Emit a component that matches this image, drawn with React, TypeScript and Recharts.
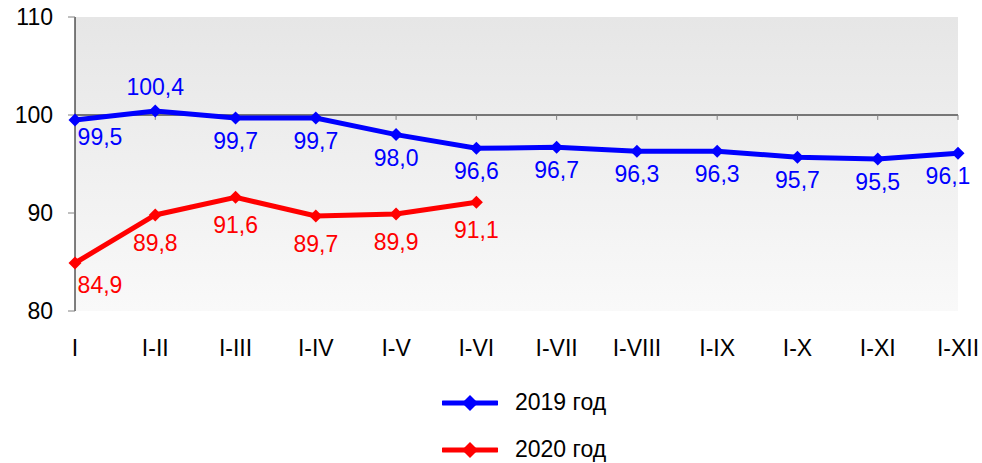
import React from 'react';
import {
  LineChart,
  Line,
  XAxis,
  YAxis,
  CartesianGrid,
  ReferenceLine,
  LabelList,
  Legend,
} from 'recharts';

const categories = ['I', 'I-II', 'I-III', 'I-IV', 'I-V', 'I-VI', 'I-VII', 'I-VIII', 'I-IX', 'I-X', 'I-XI', 'I-XII'];
const values2019 = [99.5, 100.4, 99.7, 99.7, 98.0, 96.6, 96.7, 96.3, 96.3, 95.7, 95.5, 96.1];
const values2020 = [84.9, 89.8, 91.6, 89.7, 89.9, 91.1];
const yTicks = [80, 90, 100, 110];
const seriesNames = ['2019 год', '2020 год'];
const seriesColors = ['#0000ff', '#ff0000'];

const data = categories.map((c, i) => ({
  cat: c,
  y2019: values2019[i],
  y2020: i < values2020.length ? values2020[i] : null,
}));

const FONT = '"Liberation Sans", Arial, sans-serif';
const FS = 23;

const fmt = (v: number) => v.toFixed(1).replace('.', ',');

const makeDot = (color: string, r: number) => (p: any) => {
  const { cx, cy, index } = p;
  if (cx == null || cy == null || p.value == null) return <g key={`d${index}`} />;
  return (
    <path
      key={`d${index}`}
      d={`M${cx},${cy - r} L${cx + r},${cy} L${cx},${cy + r} L${cx - r},${cy} Z`}
      fill={color}
    />
  );
};

const makeLabel = (color: string, series: number) => (p: any) => {
  const { x, y, value, index } = p;
  if (value == null || x == null || y == null) return null;
  let dx = 0;
  let dy = series === 0 ? 23 : 28;
  if (index === 0) {
    dx = 25;
    dy = series === 0 ? 17 : 22;
  }
  if (series === 0 && index === 1) dy = -24;
  if (series === 0 && index === categories.length - 1) dx = -10;
  return (
    <text
      x={x + dx}
      y={y + dy}
      fill={color}
      fontSize={FS}
      fontFamily={FONT}
      textAnchor="middle"
      dominantBaseline="central"
    >
      {fmt(Number(value))}
    </text>
  );
};

const LegendContent = () => (
  <div style={{ fontFamily: FONT, fontSize: FS, color: '#000' }}>
    {seriesNames.map((name, i) => (
      <div key={name} style={{ display: 'flex', alignItems: 'center', height: 47 }}>
        <svg width={56} height={22} style={{ display: 'block' }}>
          <line x1={1} y1={11} x2={55} y2={11} stroke={seriesColors[i]} strokeWidth={5} strokeLinecap="round" />
          <path d="M28,3 L36,11 L28,19 L20,11 Z" fill={seriesColors[i]} />
        </svg>
        <span style={{ marginLeft: 17, whiteSpace: 'nowrap' }}>{name}</span>
      </div>
    ))}
  </div>
);

export default function App() {
  return (
    <div style={{ position: 'absolute', left: 0, top: 0, width: 982, height: 463, background: '#fff' }}>
      <LineChart
        width={982}
        height={463}
        data={data}
        margin={{ top: 17, right: 24, left: 0, bottom: 0 }}
      >
        <defs>
          <linearGradient id="bgGrad" x1="0" y1="0" x2="0" y2="1">
            <stop offset="0%" stopColor="#e6e6e6" />
            <stop offset="100%" stopColor="#f9f9f9" />
          </linearGradient>
        </defs>
        <CartesianGrid horizontal={false} vertical={false} fill="url(#bgGrad)" stroke="none" />
        <XAxis
          dataKey="cat"
          height={152}
          axisLine={false}
          tickLine={false}
          tickSize={0}
          tickMargin={29}
          interval={0}
          tick={{ fill: '#000', fontSize: FS, fontFamily: FONT }}
        />
        <YAxis
          width={75}
          domain={[80, 110]}
          ticks={yTicks}
          interval={0}
          axisLine={{ stroke: '#000', strokeWidth: 1 }}
          tickLine={{ stroke: '#808080' }}
          tickSize={7}
          tickMargin={15}
          tick={{ fill: '#000', fontSize: FS, fontFamily: FONT }}
        />
        <ReferenceLine y={100} stroke="#000" strokeWidth={1} ifOverflow="visible" />
        {categories.slice(1).map((c) => (
          <ReferenceLine
            key={`t${c}`}
            segment={[
              { x: c, y: 100 },
              { x: c, y: 99.5 },
            ]}
            stroke="#808080"
            strokeWidth={1}
          />
        ))}
        <Line
          type="linear"
          dataKey="y2019"
          name={seriesNames[0]}
          stroke={seriesColors[0]}
          strokeWidth={5}
          dot={makeDot(seriesColors[0], 6.5)}
          activeDot={false}
          isAnimationActive={false}
        >
          <LabelList dataKey="y2019" content={makeLabel(seriesColors[0], 0)} />
        </Line>
        <Line
          type="linear"
          dataKey="y2020"
          name={seriesNames[1]}
          stroke={seriesColors[1]}
          strokeWidth={5}
          dot={makeDot(seriesColors[1], 6.5)}
          activeDot={false}
          connectNulls={false}
          isAnimationActive={false}
        >
          <LabelList dataKey="y2020" content={makeLabel(seriesColors[1], 1)} />
        </Line>
        <Legend
          layout="vertical"
          verticalAlign="middle"
          align="center"
          content={LegendContent}
          wrapperStyle={{ position: 'absolute', top: 379, left: 442, width: 220, height: 94 }}
        />
      </LineChart>
    </div>
  );
}
